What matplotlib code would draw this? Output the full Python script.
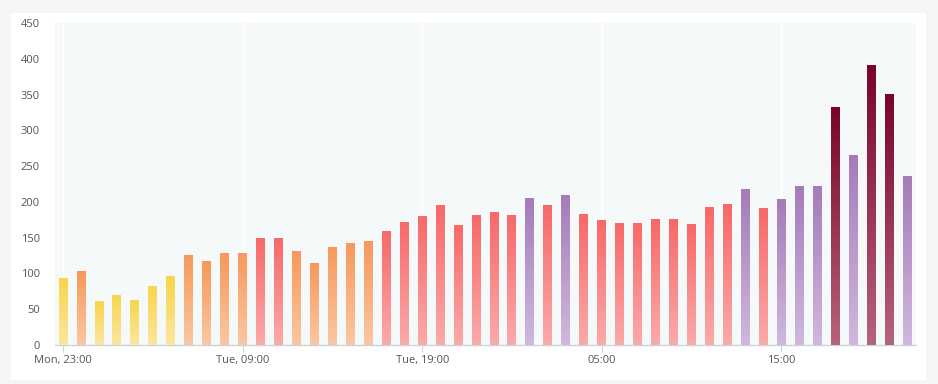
import numpy as np
import matplotlib.pyplot as plt
from matplotlib.patches import Rectangle
from matplotlib.colors import LinearSegmentedColormap

# hourly counts, Mon 23:00 onwards
values = [93, 103, 61, 70, 63, 82, 96, 126, 117, 128, 129, 150, 150, 131, 115, 137,
          143, 145, 160, 172, 180, 196, 168, 182, 186, 181, 205, 196, 210, 183, 174, 170,
          171, 176, 176, 169, 193, 197, 218, 191, 204, 222, 222, 332, 265, 392, 351, 236]
tick_pos = [0, 10, 20, 30, 40]
tick_labels = ["Mon, 23:00", "Tue, 09:00", "Tue, 19:00", "05:00", "15:00"]
y_ticks = [0, 50, 100, 150, 200, 250, 300, 350, 400, 450]

# (upper bound, top colour, bottom colour)
bands = [(100, "#f8d64a", "#fbe6a0"),
         (150, "#f7985a", "#fbc7a2"),
         (200, "#f86868", "#fbaaaa"),
         (300, "#a57bb9", "#d0b8de"),
         (1e9, "#780528", "#b7637c")]


def band_for(v):
    for hi, top, bot in bands:
        if v < hi:
            return top, bot


fig = plt.figure(figsize=(9.38, 3.84), dpi=100, facecolor="#f6f6f6")
fig.patches.append(Rectangle((11 / 938, 4 / 384), 915 / 938, 367 / 384,
                             transform=fig.transFigure, facecolor="white",
                             edgecolor="none", zorder=-1))
ax = fig.add_axes([55 / 938, 39 / 384, 861 / 938, 322 / 384])
ax.set_facecolor("#f6f9fa")

x = np.arange(len(values))
bars = ax.bar(x, values, width=0.5, color="none", edgecolor="none", zorder=2)

grad = np.linspace(0, 1, 256).reshape(-1, 1)
for b, v in zip(bars, values):
    top, bot = band_for(v)
    cmap = LinearSegmentedColormap.from_list("g", [bot, top])
    x0, y0 = b.get_x(), b.get_y()
    w, h = b.get_width(), b.get_height()
    im = ax.imshow(grad, cmap=cmap, aspect="auto", origin="lower",
                   extent=[x0, x0 + w, y0, y0 + h], zorder=3, interpolation="bicubic")
    im.set_clip_path(b)

ax.set_xlim(-0.45, len(values) - 0.5)
ax.set_ylim(0, 450)

ax.set_xticks(tick_pos)
ax.set_xticklabels(tick_labels)
ax.set_yticks(y_ticks)
ax.grid(axis="x", color="white", linewidth=1.0, zorder=1)
ax.grid(axis="y", visible=False)

for s in ["top", "right", "left"]:
    ax.spines[s].set_visible(False)
ax.spines["bottom"].set_color("#c9d5dd")
ax.spines["bottom"].set_linewidth(1.0)

ax.tick_params(axis="x", length=5, color="#c9d5dd", labelsize=8, labelcolor="#555555", pad=2)
ax.tick_params(axis="y", length=0, labelsize=8, labelcolor="#555555", pad=11)
for lab in ax.get_xticklabels() + ax.get_yticklabels():
    lab.set_fontfamily("Open Sans")

fig.savefig("out.png", dpi=100, facecolor=fig.get_facecolor())
